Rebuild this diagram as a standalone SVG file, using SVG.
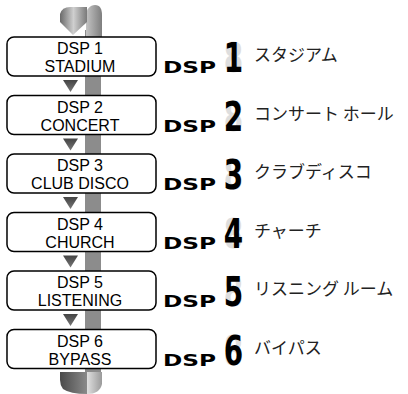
<svg xmlns="http://www.w3.org/2000/svg" width="408" height="394" viewBox="0 0 408 394">
<style>
.box{fill:#fff;stroke:#000;stroke-width:1.5}
.lbl{font-family:"Liberation Sans",Arial,sans-serif;font-size:16px;fill:#000;text-anchor:middle}
.dsp{font-family:"DejaVu Sans",sans-serif;font-weight:bold;font-size:16px;fill:#000}
.dig{font-family:"DejaVu Sans",sans-serif;font-weight:bold;font-size:41px;text-anchor:middle}
.off{fill:#dedede}
.on{fill:#000}
.jp{font-family:"Noto Sans CJK JP",sans-serif;font-size:17px;fill:#222}
.tri{fill:url(#tg)}
</style>
<defs>
<linearGradient id="tg" x1="0" y1="0" x2="0" y2="1"><stop offset="0" stop-color="#444"/><stop offset="1" stop-color="#777"/></linearGradient>
<linearGradient id="lg" x1="0" y1="0" x2="1" y2="0"><stop offset="0" stop-color="#6a6a6a"/><stop offset="0.5" stop-color="#cfcfcf"/><stop offset="1" stop-color="#7a7a7a"/></linearGradient>
<linearGradient id="rg" x1="0" y1="0" x2="1" y2="0"><stop offset="0" stop-color="#c4c4c4"/><stop offset="1" stop-color="#7e7e7e"/></linearGradient>
<linearGradient id="bl" x1="0" y1="0" x2="1" y2="0"><stop offset="0" stop-color="#4a4a4a"/><stop offset="1" stop-color="#8a8a8a"/></linearGradient>
<linearGradient id="br" x1="0" y1="0" x2="1" y2="0"><stop offset="0" stop-color="#e0e0e0"/><stop offset="1" stop-color="#9a9a9a"/></linearGradient>
</defs>
<g id="connectors">
<rect x="85" y="30" width="16" height="345" fill="#8c8c8c"/>
<path d="M86,40 L86,16 C86,9 90,5 95,5 C100,5 102,9 102,15 L102,40 Z" fill="url(#rg)"/>
<path d="M60,22 L60,14 Q62,7 70,7 L87,7 L87,22 L73,35 Z" fill="url(#lg)"/>
<path d="M60,372 L87,372 L87,394 Q70,394 63,389 Q60,385 60,380 Z" fill="url(#bl)"/>
<path d="M87,372 L102,372 L102,384 Q100,394 87,394 Z" fill="url(#br)"/>
<polygon class="tri" points="63,80 78,80 70.5,92"/>
<polygon class="tri" points="63,138.5 78,138.5 70.5,150.5"/>
<polygon class="tri" points="63,197 78,197 70.5,209"/>
<polygon class="tri" points="63,255.5 78,255.5 70.5,267.5"/>
<polygon class="tri" points="63,314 78,314 70.5,326"/>
</g>
<g id="node1">
<rect class="box" x="7" y="37" width="149" height="39" rx="7"/>
<text class="lbl" x="80" y="54">DSP 1</text><text class="lbl" x="80" y="72">STADIUM</text>
<text class="dsp" x="163" y="73" textLength="53" lengthAdjust="spacingAndGlyphs">DSP</text>
<g transform="translate(233.5,72) scale(0.68,1)"><text class="dig off">8</text><text class="dig on">1</text></g>
<text class="jp" x="254" y="61">スタジアム</text>
</g>
<g id="node2" transform="translate(0,58.5)">
<rect class="box" x="7" y="37" width="149" height="39" rx="7"/>
<text class="lbl" x="80" y="54">DSP 2</text><text class="lbl" x="80" y="72">CONCERT</text>
<text class="dsp" x="163" y="73" textLength="53" lengthAdjust="spacingAndGlyphs">DSP</text>
<g transform="translate(233.5,72) scale(0.68,1)"><text class="dig off">8</text><text class="dig on">2</text></g>
<text class="jp" x="254" y="61">コンサート ホール</text>
</g>
<g id="node3" transform="translate(0,117)">
<rect class="box" x="7" y="37" width="149" height="39" rx="7"/>
<text class="lbl" x="80" y="54">DSP 3</text><text class="lbl" x="80" y="72">CLUB DISCO</text>
<text class="dsp" x="163" y="73" textLength="53" lengthAdjust="spacingAndGlyphs">DSP</text>
<g transform="translate(233.5,72) scale(0.68,1)"><text class="dig off">8</text><text class="dig on">3</text></g>
<text class="jp" x="254" y="61">クラブディスコ</text>
</g>
<g id="node4" transform="translate(0,175.5)">
<rect class="box" x="7" y="37" width="149" height="39" rx="7"/>
<text class="lbl" x="80" y="54">DSP 4</text><text class="lbl" x="80" y="72">CHURCH</text>
<text class="dsp" x="163" y="73" textLength="53" lengthAdjust="spacingAndGlyphs">DSP</text>
<g transform="translate(233.5,72) scale(0.68,1)"><text class="dig off">8</text><text class="dig on">4</text></g>
<text class="jp" x="254" y="61">チャーチ</text>
</g>
<g id="node5" transform="translate(0,234)">
<rect class="box" x="7" y="37" width="149" height="39" rx="7"/>
<text class="lbl" x="80" y="54">DSP 5</text><text class="lbl" x="80" y="72">LISTENING</text>
<text class="dsp" x="163" y="73" textLength="53" lengthAdjust="spacingAndGlyphs">DSP</text>
<g transform="translate(233.5,72) scale(0.68,1)"><text class="dig off">8</text><text class="dig on">5</text></g>
<text class="jp" x="254" y="61">リスニング ルーム</text>
</g>
<g id="node6" transform="translate(0,292.5)">
<rect class="box" x="7" y="37" width="149" height="39" rx="7"/>
<text class="lbl" x="80" y="54">DSP 6</text><text class="lbl" x="80" y="72">BYPASS</text>
<text class="dsp" x="163" y="73" textLength="53" lengthAdjust="spacingAndGlyphs">DSP</text>
<g transform="translate(233.5,72) scale(0.68,1)"><text class="dig off">8</text><text class="dig on">6</text></g>
<text class="jp" x="254" y="61">バイパス</text>
</g>
</svg>
